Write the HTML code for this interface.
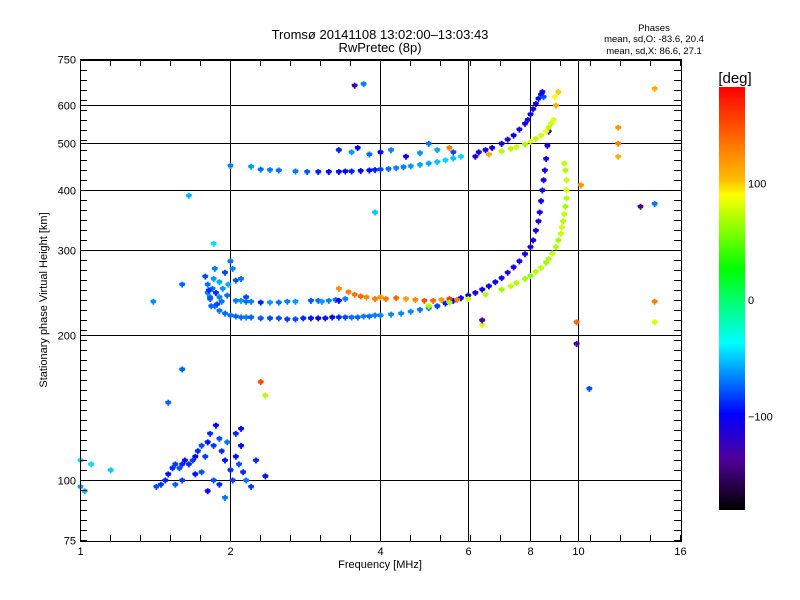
<!DOCTYPE html>
<html><head><meta charset="utf-8"><style>
html,body{margin:0;padding:0;background:#fff;}
svg{display:block;font-family:"Liberation Sans","DejaVu Sans",sans-serif;}
</style></head><body>
<svg id="chart" width="800" height="600" viewBox="0 0 800 600">
<defs>
<linearGradient id="cmap" x1="0" y1="0" x2="0" y2="1">
<stop offset="0" stop-color="#ff0000"/><stop offset="0.22" stop-color="#ffbe00"/><stop offset="0.255" stop-color="#ffff00"/>
<stop offset="0.43" stop-color="#00ff00"/><stop offset="0.605" stop-color="#00ffff"/><stop offset="0.773" stop-color="#0000ff"/>
<stop offset="0.88" stop-color="#50009a"/><stop offset="1" stop-color="#000000"/>
</linearGradient>
</defs>
<text x="380" y="39" text-anchor="middle" font-size="13">Tromsø 20141108 13:02:00–13:03:43</text>
<text x="380" y="52" text-anchor="middle" font-size="13">RwPretec (8p)</text>
<text x="654" y="31" text-anchor="middle" font-size="9.5">Phases</text>
<text x="654" y="42" text-anchor="middle" font-size="9.5">mean, sd,O: -83.6, 20.4</text>
<text x="654" y="54" text-anchor="middle" font-size="9.5">mean, sd,X:  86.6, 27.1</text>
<g id="grid"></g>
<g id="marks"></g>
<g id="axes"></g>
<text x="380" y="568" text-anchor="middle" font-size="11">Frequency [MHz]</text>
<text transform="translate(47,300) rotate(-90)" text-anchor="middle" font-size="11">Stationary phase Virtual Height [km]</text>
<text x="735" y="83" text-anchor="middle" font-size="15">[deg]</text>
<rect x="719" y="87" width="26" height="423" fill="url(#cmap)"/>
<g id="cbticks"></g>
</svg>
<script>
const xTicks=[1,2,4,6,8,10,16];
const yTicks=[75,100,200,300,400,500,600,750];
const cbTicks=[100,0,-100];
const oLowF=[1.82,1.86,1.9,1.95,2.0,2.05,2.1,2.15,2.2,2.3,2.4,2.5,2.6,2.7,2.8,2.9,3.0,3.1,3.2,3.3,3.4,3.5,3.6,3.7,3.8,3.9,4.0,4.2,4.4,4.6,4.8,5.0,5.2,5.4,5.6,5.8,6.0,6.2,6.4,6.6,6.8,7.0,7.2,7.4,7.6,7.8,8.0,8.1,8.2,8.3,8.35,8.4,8.45,8.5,8.55,8.6,8.65,8.7];
const oLowH=[240,230,225,222,220,219,218,218,218,217,217,217,216,216,217,217,217,217,218,218,218,218,218,219,219,220,220,221,222,224,226,228,230,233,236,239,242,245,249,253,258,263,270,277,285,295,305,315,330,345,360,380,400,420,440,465,495,530];
const oLowP=[-72,-72,-70,-72,-72,-75,-72,-70,-75,-78,-82,-80,-85,-82,-90,-95,-100,-95,-98,-90,-82,-72,-76,-68,-72,-68,-68,-65,-65,-66,-70,-74,-84,-92,-100,-105,-108,-108,-108,-105,-100,-108,-112,-108,-105,-108,-112,-108,-108,-112,-108,-105,-108,-112,-108,-108,-112,-108];
const cuspF=[1.78,1.8,1.8,1.82,1.84,1.85,1.87,1.9,1.92,1.95,1.98,2.0,2.02,1.83,1.88,1.93,2.05,1.81,1.86,1.9,1.97,2.1,2.15];
const cuspH=[265,255,245,238,250,262,245,240,235,270,255,285,275,230,232,250,260,248,275,258,242,262,240];
const cuspP=[-82,-72,-68,-78,-72,-62,-88,-68,-72,-82,-58,-72,-68,-75,-82,-62,-78,-88,-68,-58,-72,-72,-82];
const band2F=[2.05,2.1,2.15,2.2,2.3,2.4,2.5,2.6,2.7,2.9,3.0,3.05,3.15,3.25,3.3,3.4];
const band2H=[236,236,235,235,234,234,234,235,235,236,236,235,236,237,236,238];
const band2P=[-68,-62,-72,-68,-90,-62,-72,-68,-62,-78,-72,-62,-68,-72,-100,-68];
const orangeF=[3.3,3.45,3.55,3.65,3.75,3.9,4.0,4.1,4.3,4.5,4.7,4.9,5.1,5.3,5.5,5.7];
const orangeH=[250,246,243,241,240,238,240,238,239,238,237,236,236,237,238,237];
const orangeP=[125,130,135,140,125,130,120,135,140,115,125,150,140,120,160,130];
const xTrF=[5.0,5.5,6.0,6.5,7.0,7.3,7.5,7.8,8.0,8.2,8.4,8.6,8.7,8.85,9.0,9.1,9.2,9.25,9.3,9.35,9.4,9.45,9.45,9.45,9.4,9.35];
const xTrH=[230,234,238,243,249,253,257,262,266,271,276,283,288,296,305,315,325,335,345,357,370,385,400,420,440,455];
const xTrP=[70,65,75,70,65,75,70,65,60,70,75,65,70,75,70,65,75,80,70,75,65,70,80,75,70,75];
const upF=[2.0,2.2,2.3,2.4,2.5,2.7,2.85,3.0,3.15,3.3,3.4,3.5,3.65,3.8,3.9,4.0,4.15,4.3,4.45,4.6,4.8,5.0,5.2,5.4,5.6,5.8];
const upH=[450,448,442,441,440,438,437,437,437,437,438,438,439,440,441,442,443,445,447,449,452,455,458,462,466,470];
const upP=[-68,-62,-72,-68,-72,-70,-78,-92,-98,-102,-98,-92,-102,-98,-92,-82,-72,-68,-68,-62,-58,-58,-52,-48,-52,-48];
const upScF=[3.3,3.5,3.6,3.8,4.0,4.2,4.5,4.8,5.0,5.2,5.5,5.6,3.55,3.7];
const upScH=[485,480,490,475,480,485,470,478,500,485,490,480,660,665];
const upScP=[-92,-62,-105,-72,-98,-68,-102,-62,-72,-58,130,-82,-130,-68];
const upOF=[6.3,6.5,6.7,7.0,7.2,7.4,7.6,7.8,7.9,8.0,8.1,8.2,8.3,8.4,8.5,8.45];
const upOH=[480,485,490,500,510,520,535,550,560,575,590,605,620,632,625,640];
const upOP=[-105,-100,-110,-105,-110,-100,-115,-105,-110,-100,-110,-105,-95,-110,-80,-105];
const upXF=[6.6,7.0,7.3,7.5,7.8,8.0,8.2,8.4,8.6,8.7,8.8,8.9,9.0,8.95,9.1];
const upXH=[475,482,488,492,498,505,512,520,530,540,550,560,600,625,640];
const upXP=[110,70,72,78,68,82,72,78,88,72,78,82,110,90,100];
const lowF=[1.42,1.45,1.48,1.5,1.53,1.55,1.58,1.6,1.62,1.65,1.68,1.7,1.72,1.75,1.78,1.8,1.82,1.85,1.87,1.9,1.92,1.95,1.97,2.0,2.02,2.05,2.08,2.1,2.12,2.15,2.2,2.25,2.35,1.85,1.9,1.8,1.95,1.7,1.75,2.05,2.1,1.6,1.55];
const lowH=[97,98,100,103,106,108,106,108,110,108,110,112,115,118,112,120,125,118,130,122,115,110,120,105,100,112,108,118,104,100,97,110,102,100,98,95,92,103,104,125,128,100,98];
const lowP=[-80,-85,-90,-95,-90,-85,-80,-90,-95,-90,-85,-100,-90,-80,-85,-95,-90,-85,-100,-80,-90,-95,-70,-90,-85,-95,-80,-100,-90,-70,-85,-90,-95,-80,-90,-105,-70,-95,-80,-90,-100,-85,-75];
const scF=[1.0,1.02,1.05,1.15,1.5,1.6,1.65,1.85,2.3,3.9,6.2,6.4,6.4,9.9,9.9,10.1,10.5,12,12,12,13.3,14.2,14.2,14.2,14.2,1.4,1.6,2.35,1.0];
const scH=[97,95,108,105,145,170,390,310,160,360,470,210,215,213,192,410,155,540,500,470,370,375,235,213,650,235,255,150,110];
const scP=[-60,-55,-45,-50,-75,-75,-55,-45,150,-50,-110,80,-140,140,-130,120,-80,120,130,110,-140,-70,130,80,110,-65,-75,70,-45];

const X0=80,X1=681,Y0=60,Y1=541;
function xs(f){return 80+150*Math.log2(f);}
function ys(h){return 480-145*Math.log2(h/100);}
function cbY(p){return 300-1.165*p;}
const stops=[[-180,0,0,0],[-137,80,0,154],[-99,0,0,255],[-37,0,255,255],[26,0,255,0],[90,255,255,0],[103,255,190,0],[183,255,0,0]];
function col(p){
  for(let i=0;i<stops.length-1;i++){const a=stops[i],b=stops[i+1];
    if(p<=b[0]){const t=Math.max(0,(p-a[0])/(b[0]-a[0]));
      return `rgb(${Math.round(a[1]+t*(b[1]-a[1]))},${Math.round(a[2]+t*(b[2]-a[2]))},${Math.round(a[3]+t*(b[3]-a[3]))})`;}}
  return 'rgb(255,0,0)';
}
const NS='http://www.w3.org/2000/svg';
function mk(tag,attrs,parent){const e=document.createElementNS(NS,tag);for(const k in attrs)e.setAttribute(k,attrs[k]);parent.appendChild(e);return e;}
const grid=document.getElementById('grid'),axes=document.getElementById('axes'),marks=document.getElementById('marks'),cbt=document.getElementById('cbticks');
xTicks.forEach(f=>{const x=Math.round(xs(f))+0.5;
  if(f>1&&f<16){const l=mk('line',{x1:x,x2:x,y1:Y0,y2:Y1,stroke:'#000','stroke-width':1},grid);
    
    }
  const t=mk('text',{x:x,y:555,'text-anchor':'middle','font-size':11},axes);t.textContent=f;
  
  
});
yTicks.forEach(h=>{const y=Math.round(ys(h))+0.5;
  if(h>75&&h<750){const l=mk('line',{x1:X0,x2:X1,y1:y,y2:y,stroke:'#000','stroke-width':1},grid);
    
    }
  const t=mk('text',{x:76,y:y+4,'text-anchor':'end','font-size':11},axes);t.textContent=h;
  
  
});
for(let x=110;x<X1;x+=30){mk('line',{x1:x+.5,x2:x+.5,y1:Y0,y2:Y0+6,stroke:'#000'},axes);mk('line',{x1:x+.5,x2:x+.5,y1:Y1,y2:Y1-6,stroke:'#000'},axes);}
for(let y=70;y<Y1;y+=10){mk('line',{x1:X0,x2:X0+7,y1:y+.5,y2:y+.5,stroke:'#000'},axes);mk('line',{x1:X1,x2:X1-7,y1:y+.5,y2:y+.5,stroke:'#000'},axes);}
const fr=mk('rect',{x:X0+.5,y:Y0,width:X1-X0,height:Y1-Y0+.5,fill:'none',stroke:'#000','stroke-width':1},axes);


mk('line',{x1:X0,x2:X1+1,y1:Y0,y2:Y0,stroke:'#000','stroke-width':2},axes);
function plot(F,H,P,name){
  for(let i=0;i<F.length;i++){
    const x=xs(F[i]),y=ys(H[i]),c=col(P[i]);
    const g=mk('path',{d:`M${x-2.5} ${y}h6M${x+0.5} ${y-2.5}v6`,stroke:c,'stroke-width':1.8,fill:'none'},marks);
    
    
    const g2=mk('rect',{x:x-2,y:y-1.5,width:5,height:3.5,fill:c},marks);
    
    
  }
}
plot(oLowF,oLowH,oLowP,'o-trace-point');
plot(cuspF,cuspH,cuspP,'cusp-point');
plot(band2F,band2H,band2P,'band2-point');
plot(orangeF,orangeH,orangeP,'orange-band-point');
plot(xTrF,xTrH,xTrP,'x-trace-point');
plot(upF,upH,upP,'upper-band-point');
plot(upScF,upScH,upScP,'upper-scatter-point');
plot(upOF,upOH,upOP,'upper-o-point');
plot(upXF,upXH,upXP,'upper-x-point');
plot(lowF,lowH,lowP,'low-cluster-point');
plot(scF,scH,scP,'scatter-point');
cbTicks.forEach(v=>{const t=mk('text',{x:748,y:cbY(v)+4,'font-size':11},cbt);t.textContent=v===-100?'\u2212100':v;
  
  });
</script>
</body></html>
